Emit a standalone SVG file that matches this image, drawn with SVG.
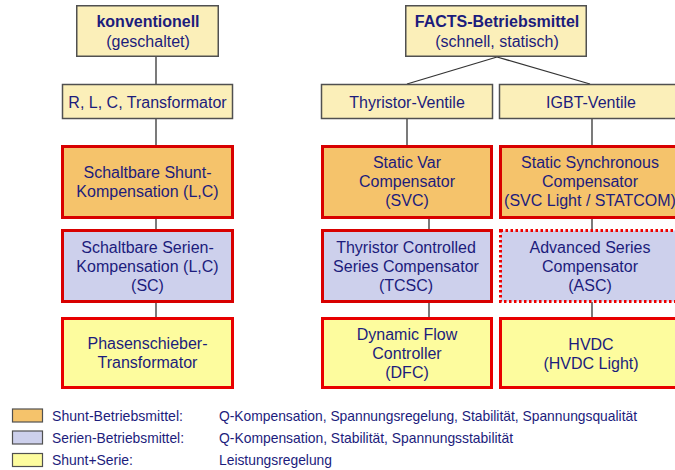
<svg xmlns="http://www.w3.org/2000/svg" width="675" height="470" viewBox="0 0 675 470">
<style>
text{font-family:"Liberation Sans",Arial,sans-serif;fill:#1c1c7c;font-size:16px;text-anchor:middle}
.b{font-weight:bold}
.hdr{fill:#fbefb9;stroke:#505050;stroke-width:1.5}
.sh{fill:#f5c36b;stroke:#d80000;stroke-width:3}
.se{fill:#cdd0ec;stroke:#d80000;stroke-width:3}
.ss{fill:#fdfc9e;stroke:#e80000;stroke-width:3}
.dot{fill:#cdd0ec;stroke:#ee0000;stroke-width:3;stroke-dasharray:2.5 2.5}
.lg{font-size:15px;text-anchor:start}
.sw{stroke:#505050;stroke-width:1.2}
#connectors line{stroke:#333;stroke-width:1.3}
</style>
<rect width="675" height="470" fill="#fff"/>
<g id="connectors">
<line x1="156" y1="56" x2="156" y2="85"/>
<line x1="156" y1="119" x2="156" y2="146"/>
<line x1="156" y1="218" x2="156" y2="230"/>
<line x1="156" y1="302" x2="156" y2="318"/>
<line x1="497" y1="57" x2="407" y2="84"/>
<line x1="497" y1="57" x2="590" y2="84"/>
<line x1="407" y1="119" x2="407" y2="146"/>
<line x1="429" y1="218" x2="429" y2="230"/>
<line x1="429" y1="302" x2="429" y2="318"/>
<line x1="592" y1="119" x2="592" y2="146"/>
<line x1="592" y1="218" x2="592" y2="230"/>
<line x1="592" y1="302" x2="592" y2="318"/>
</g>
<g id="konventionell"><rect class="hdr" x="76.75" y="5.75" width="141.5" height="50.5"/><text class="b" x="148" y="27">konventionell</text><text x="148" y="47">(geschaltet)</text></g>
<g id="rlc"><rect class="hdr" x="62.5" y="84.5" width="170" height="34"/><text x="147.5" y="108">R, L, C, Transformator</text></g>
<g id="shunt"><rect class="sh" x="62.5" y="146.5" width="170" height="71"/><text x="147.5" y="178">Schaltbare Shunt-</text><text x="147.5" y="197">Kompensation (L,C)</text></g>
<g id="serien"><rect class="se" x="62.5" y="230.5" width="170" height="71"/><text x="147.5" y="253">Schaltbare Serien-</text><text x="147.5" y="272">Kompensation (L,C)</text><text x="147.5" y="291">(SC)</text></g>
<g id="phasen"><rect class="ss" x="62.5" y="318.5" width="170" height="69"/><text x="147.5" y="349">Phasenschieber-</text><text x="147.5" y="368">Transformator</text></g>
<g id="facts"><rect class="hdr" x="405.75" y="5.75" width="180.5" height="50.5"/><text class="b" x="497" y="27">FACTS-Betriebsmittel</text><text x="497" y="47">(schnell, statisch)</text></g>
<g id="thyristor"><rect class="hdr" x="321.5" y="84.5" width="171" height="34"/><text x="407" y="108">Thyristor-Ventile</text></g>
<g id="igbt"><rect class="hdr" x="499.5" y="84.5" width="185" height="34"/><text x="591" y="108">IGBT-Ventile</text></g>
<g id="svc"><rect class="sh" x="322.5" y="146.5" width="169" height="71"/><text x="407" y="168">Static Var</text><text x="407" y="187">Compensator</text><text x="407" y="206">(SVC)</text></g>
<g id="statcom"><rect class="sh" x="500.5" y="146.5" width="185" height="71"/><text x="590" y="168">Static Synchronous</text><text x="590" y="187">Compensator</text><text x="590" y="206">(SVC Light / STATCOM)</text></g>
<g id="tcsc"><rect class="se" x="322.5" y="230.5" width="169" height="71"/><text x="406" y="253">Thyristor Controlled</text><text x="406" y="272">Series Compensator</text><text x="406" y="291">(TCSC)</text></g>
<g id="asc"><rect class="dot" x="500.5" y="230.5" width="185" height="71"/><text x="590" y="253">Advanced Series</text><text x="590" y="272">Compensator</text><text x="590" y="291">(ASC)</text></g>
<g id="dfc"><rect class="ss" x="322.5" y="318.5" width="169" height="69"/><text x="407" y="340">Dynamic Flow</text><text x="407" y="359">Controller</text><text x="407" y="378">(DFC)</text></g>
<g id="hvdc"><rect class="ss" x="500.5" y="318.5" width="185" height="69"/><text x="591" y="350">HVDC</text><text x="591" y="369">(HVDC Light)</text></g>
<g id="legend">
<rect class="sw" x="12.5" y="409" width="30" height="13" fill="#f5c36b"/>
<rect class="sw" x="12.5" y="431" width="30" height="13" fill="#cdd0ec"/>
<rect class="sw" x="12.5" y="453.5" width="30" height="13" fill="#fdfc9e"/>
<text class="lg" x="52" y="421" textLength="131" lengthAdjust="spacingAndGlyphs">Shunt-Betriebsmittel:</text>
<text class="lg" x="52" y="443" textLength="132" lengthAdjust="spacingAndGlyphs">Serien-Betriebsmittel:</text>
<text class="lg" x="52" y="465" textLength="81" lengthAdjust="spacingAndGlyphs">Shunt+Serie:</text>
<text class="lg" x="219" y="421" textLength="418" lengthAdjust="spacingAndGlyphs">Q-Kompensation, Spannungsregelung, Stabilität, Spannungsqualität</text>
<text class="lg" x="219" y="443" textLength="294" lengthAdjust="spacingAndGlyphs">Q-Kompensation, Stabilität, Spannungsstabilität</text>
<text class="lg" x="219" y="465" textLength="113" lengthAdjust="spacingAndGlyphs">Leistungsregelung</text>
</g>
</svg>
